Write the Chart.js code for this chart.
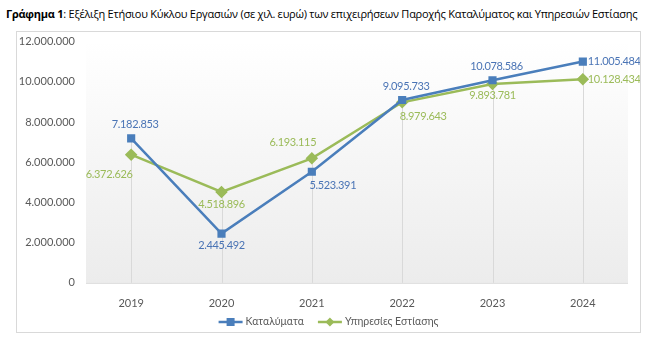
<!DOCTYPE html>
<html>
<head>
<meta charset="utf-8">
<script src="https://cdn.jsdelivr.net/npm/chart.js@4/dist/chart.umd.min.js"></script>
<style>
  body{margin:0;width:658px;height:338px;background:#fff;font-family:"Open Sans","Liberation Sans",sans-serif;}
  #title{position:absolute;left:6px;top:6px;font-size:11px;color:#000;white-space:nowrap;letter-spacing:-0.25px;}
  #box{position:absolute;left:16px;top:31px;width:623px;height:300px;border:1px solid #d9d9d9;}
</style>
</head>
<body>
<div id="title"><b>Γράφημα 1</b>: Εξέλιξη Ετήσιου Κύκλου Εργασιών (σε χιλ. ευρώ) των επιχειρήσεων Παροχής Καταλύματος και Υπηρεσιών Εστίασης</div>
<div id="box"><canvas id="chart" width="623" height="300"></canvas></div>
<script>
var years = ['2019','2020','2021','2022','2023','2024'];
var katalymata = [7182853, 2445492, 5523391, 9095733, 10078586, 11005484];
var estiasi = [6372626, 4518896, 6193115, 8979643, 9893781, 10128434];
var yTicks = [0, 2000000, 4000000, 6000000, 8000000, 10000000, 12000000];

var blue = '#4a7ebb';
var green = '#9bbb59';
var FONT = 'Lato, "Open Sans", sans-serif';

function fmt(v){ return v.toString().replace(/\B(?=(\d{3})+(?!\d))/g, '.'); }

// where each value label sits relative to its point
var blueLabelPos = ['top','bottom','bottomright','top','top','right'];
var greenLabelPos = ['bottomleft','bottom','topleft','bottomright','bottom','right'];

var plotBg = {
  id: 'plotBg',
  beforeDraw: function(chart){
    var a = chart.chartArea, c = chart.ctx;
    var g = c.createLinearGradient(0, a.top, 0, a.bottom);
    g.addColorStop(0, '#ffffff');
    g.addColorStop(1, '#ececec');
    c.save();
    c.fillStyle = g;
    c.fillRect(a.left, a.top + 2, a.right - a.left, a.bottom - a.top - 2);
    c.strokeStyle = '#d9d9d9';
    c.lineWidth = 1;
    c.beginPath();
    c.moveTo(a.left, a.bottom + 0.5);
    c.lineTo(a.right, a.bottom + 0.5);
    c.stroke();
    // drop lines from the highest point of each year
    var y = chart.scales.y;
    years.forEach(function(_, i){
      var top = Math.max(katalymata[i], estiasi[i]);
      var x = Math.round(chart.scales.x.getPixelForValue(i)) + 0.5;
      c.beginPath();
      c.moveTo(x, y.getPixelForValue(top));
      c.lineTo(x, a.bottom);
      c.stroke();
    });
    c.restore();
  }
};

var valueLabels = {
  id: 'valueLabels',
  afterDatasetsDraw: function(chart){
    var c = chart.ctx;
    c.save();
    c.font = '11px ' + FONT;
    c.letterSpacing = '-0.35px';
    chart.data.datasets.forEach(function(ds, di){
      var pos = di == 0 ? blueLabelPos : greenLabelPos;
      chart.getDatasetMeta(di).data.forEach(function(pt, i){
        var p = pos[i], x = pt.x, y = pt.y;
        c.fillStyle = ds.labelColor;
        c.textAlign = 'center'; c.textBaseline = 'middle';
        if(p == 'top'){ x += 4; y -= 14; }
        else if(p == 'bottom'){ y += 12; }
        else if(p == 'right'){ x += 5; c.textAlign = 'left'; }
        else if(p == 'bottomleft'){ x -= 22; y += 20; }
        else if(p == 'topleft'){ x -= 19; y -= 16; }
        else if(p == 'bottomright'){ x += 21; y += 14; }
        c.fillText(fmt(ds.data[i]), x, y);
      });
    });
    c.restore();
  }
};

// legend drawn as line + marker like the original
var lineLegend = {
  id: 'lineLegend',
  afterDraw: function(chart){
    var c = chart.ctx;
    c.save();
    c.font = '10.5px ' + FONT;
    c.textBaseline = 'middle';
    var items = chart.data.datasets;
    var seg = 24, gap = 3, space = 14;
    var total = 0;
    items.forEach(function(ds){ total += seg + gap + c.measureText(ds.label).width; });
    total += space * (items.length - 1);
    var x = (chart.width - total) / 2, y = chart.height - 10;
    items.forEach(function(ds){
      c.strokeStyle = ds.borderColor; c.lineWidth = 2.5;
      c.beginPath(); c.moveTo(x, y); c.lineTo(x + seg, y); c.stroke();
      c.fillStyle = ds.borderColor;
      var mx = x + seg / 2;
      c.beginPath();
      if(ds.pointStyle == 'rect'){ c.rect(mx - 4, y - 4, 8, 8); }
      else { c.moveTo(mx, y - 4.5); c.lineTo(mx + 4.5, y); c.lineTo(mx, y + 4.5); c.lineTo(mx - 4.5, y); c.closePath(); }
      c.fill();
      x += seg + gap;
      c.fillStyle = '#595959';
      c.fillText(ds.label, x, y);
      x += c.measureText(ds.label).width + space;
    });
    c.restore();
  }
};

new Chart(document.getElementById('chart'), {
  type: 'line',
  data: {
    labels: years,
    datasets: [
      {label: 'Καταλύματα', data: katalymata, borderColor: blue, backgroundColor: blue, labelColor: '#4a74b5',
       borderWidth: 2.5, pointStyle: 'rect', pointRadius: 4, tension: 0},
      {label: 'Υπηρεσίες Εστίασης', data: estiasi, borderColor: green, backgroundColor: green, labelColor: '#9bbb59',
       borderWidth: 2.5, pointStyle: 'rectRot', pointRadius: 4.5, tension: 0}
    ]
  },
  options: {
    responsive: false,
    animation: false,
    layout: {padding: {left: 0, right: 12, top: 3, bottom: 16}},
    plugins: {
      legend: {display: false},
      tooltip: {enabled: false}
    },
    scales: {
      x: {
        offset: true,
        grid: {display: false},
        border: {display: false},
        ticks: {color: '#595959', font: {size: 11, family: FONT}, padding: 6}
      },
      y: {
        min: 0, max: 12000000,
        afterBuildTicks: function(s){ s.ticks = yTicks.map(function(v){ return {value: v}; }); },
        afterFit: function(s){ s.width = 69; },
        grid: {display: false},
        border: {display: false},
        ticks: {color: '#595959', font: {size: 11, family: FONT}, padding: 3,
                callback: function(v){ return fmt(v); }}
      }
    }
  },
  plugins: [plotBg, valueLabels, lineLegend]
});
</script>
</body>
</html>
